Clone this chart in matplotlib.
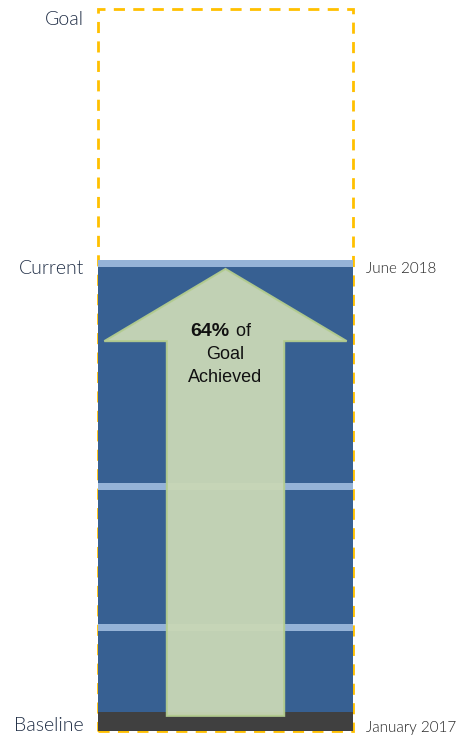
import numpy as np
import matplotlib
matplotlib.use("Agg")
import matplotlib.pyplot as plt
import matplotlib.patches as mpatches

# progress scale: baseline = 0, goal = 100
goal = 100
current = 64
pct_text = "64%"

# stacked pieces of the progress bar (bottom to top)
segments = [2.6, 11.2, 1.0, 18.6, 1.0, 29.8, 1.0]
seg_colors = ["#404040", "#376092", "#95b3d7", "#376092", "#95b3d7", "#376092", "#95b3d7"]

left_labels = ["Baseline", "Current", "Goal"]
left_pos = [0.8, 64.0, 98.5]
right_labels = ["January 2017", "June 2018"]
right_pos = [0.4, 64.0]

fig = plt.figure(figsize=(4.63, 7.38), dpi=100)
ax = fig.add_axes([0, 0, 1, 1])
ax.set_xlim(-0.884, 0.931)
ax.set_ylim(-0.97, 101.25)
ax.axis("off")

# goal outline (dashed)
box = mpatches.Rectangle((-0.5, 0), 1.0, goal, fill=False, edgecolor="#ffc000",
                         linewidth=2, linestyle=(0, (4, 3)), zorder=1)
ax.add_patch(box)

# stacked bar
bottoms = np.concatenate([[0], np.cumsum(segments)[:-1]])
ax.bar(0, segments, bottom=bottoms, width=1.0, color=seg_colors, linewidth=0, zorder=2)

# arrow
arrow = mpatches.FancyArrow(0, 2.1, 0, current - 2.1, width=0.46, head_width=0.95,
                            head_length=10, length_includes_head=True,
                            facecolor="#c9d8b6", edgecolor="#b3cc8f", linewidth=1.5,
                            alpha=0.95, zorder=3)
ax.add_patch(arrow)

# arrow text
txt_font = "Liberation Sans"
ax.text(0.015, 55.4, pct_text, ha="right", va="center", fontsize=14, fontweight="bold",
        family=txt_font, color="#111111", zorder=4)
ax.text(0.02, 55.4, " of", ha="left", va="center", fontsize=13, family=txt_font,
        color="#111111", zorder=4)
ax.text(0.0, 52.2, "Goal", ha="center", va="center", fontsize=13, family=txt_font,
        color="#111111", zorder=4)
ax.text(0.0, 49.0, "Achieved", ha="center", va="center", fontsize=13, family=txt_font,
        color="#111111", zorder=4)

for lab, y in zip(left_labels, left_pos):
    ax.text(-0.555, y, lab, ha="right", va="center", fontsize=14, family="Lato",
            fontweight=300, color="#1f2d45")
for lab, y in zip(right_labels, right_pos):
    ax.text(0.55, y, lab, ha="left", va="center", fontsize=11, family="Lato",
            fontweight=300, color="#222222")

fig.savefig("out.png", dpi=100)
